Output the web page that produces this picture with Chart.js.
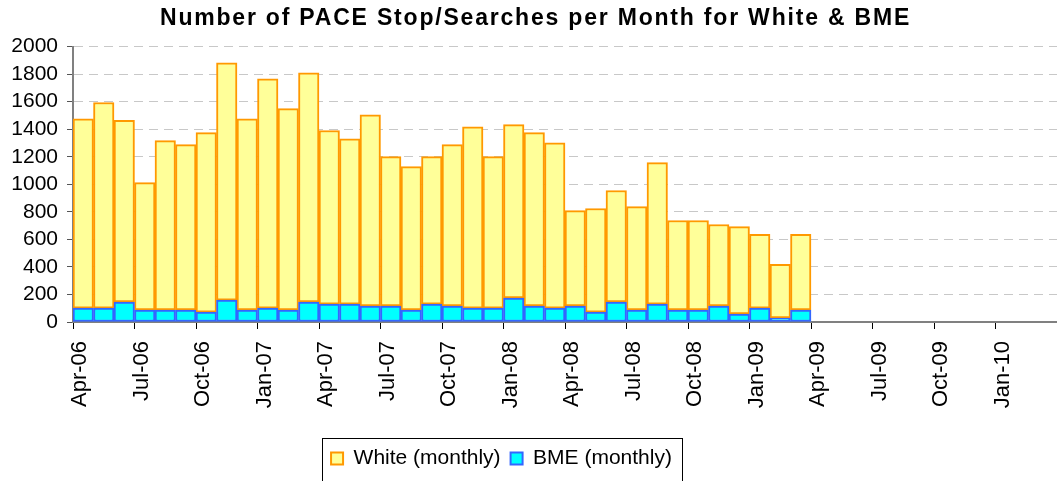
<!DOCTYPE html>
<html>
<head>
<meta charset="utf-8">
<script src="https://cdn.jsdelivr.net/npm/chart.js@4.4.1/dist/chart.umd.min.js"></script>
<style>
  html, body { margin: 0; padding: 0; background: #fff; }
  #wrap { width: 1057px; height: 481px; }
</style>
</head>
<body>
<div id="wrap"><canvas id="pace-chart"></canvas></div>
<script>
// months on the axis (Apr-06 .. Mar-10), one bar slot each
var months = [
  "Apr-06", "May-06", "Jun-06", "Jul-06", "Aug-06", "Sep-06", "Oct-06", "Nov-06", "Dec-06", "Jan-07", "Feb-07", "Mar-07",
  "Apr-07", "May-07", "Jun-07", "Jul-07", "Aug-07", "Sep-07", "Oct-07", "Nov-07", "Dec-07", "Jan-08", "Feb-08", "Mar-08",
  "Apr-08", "May-08", "Jun-08", "Jul-08", "Aug-08", "Sep-08", "Oct-08", "Nov-08", "Dec-08", "Jan-09", "Feb-09", "Mar-09",
  "Apr-09", "May-09", "Jun-09", "Jul-09", "Aug-09", "Sep-09", "Oct-09", "Nov-09", "Dec-09", "Jan-10", "Feb-10", "Mar-10"
];

// White stop/searches per month (stacked on top of BME)
var whiteMonthly = [
  1375, 1493, 1319, 925, 1230, 1201, 1303, 1723, 1389, 1665, 1462, 1665,
  1261, 1201, 1389, 1085, 1041, 1071, 1172, 1317, 1100, 1259, 1259, 1201,
  693, 752, 810, 751, 1027, 650, 650, 592, 635, 535, 389, 549
];

// BME stop/searches per month
var bmeMonthly = [
  101, 101, 145, 87, 87, 87, 72, 159, 87, 101, 87, 145,
  130, 130, 116, 116, 87, 130, 116, 101, 101, 174, 116, 101,
  116, 72, 145, 87, 130, 87, 87, 116, 58, 101, 29, 87
];

var FONT = "'Liberation Sans', Arial, sans-serif";

// title is wider in the original, so space the letters out a little
var titleSpacing = {
  id: 'titleSpacing',
  beforeDraw: function(chart) {
    var tb = chart.titleBlock;
    if (!tb || tb._spaced) return;
    var orig = tb.draw;
    tb.draw = function() {
      var c = this.ctx;
      c.save();
      c.translate(7, 0);
      c.letterSpacing = '1.8px';
      orig.apply(this, arguments);
      c.restore();
    };
    tb._spaced = true;
  }
};

// draws the black frame round the legend
var legendFrame = {
  id: 'legendFrame',
  afterLayout: function(chart) {
    // legend sits a bit left of centre in the original
    chart.legend.left -= 27;
    chart.legend.right -= 27;
  },
  afterDraw: function(chart) {
    var lg = chart.legend;
    var hb = lg.legendHitBoxes;
    if (!hb || !hb.length) return;
    var last = hb[hb.length - 1];
    var x1 = Math.round(hb[0].left - 9) + 0.5;
    var x2 = Math.round(last.left + last.width + 10) + 0.5;
    var y1 = Math.round(lg.top) + 0.5;
    var ctx = chart.ctx;
    ctx.save();
    ctx.strokeStyle = '#000';
    ctx.lineWidth = 1;
    ctx.strokeRect(x1, y1, x2 - x1, 60);
    ctx.restore();
  }
};

function drawChart() {
  var config = {
    type: 'bar',
    data: {
      labels: months,
      datasets: [{
        label: 'BME (monthly)',
        data: bmeMonthly,
        backgroundColor: '#00FFFF',
        borderColor: '#3366FF',
        borderWidth: 2,
        borderSkipped: false
      }, {
        label: 'White (monthly)',
        data: whiteMonthly,
        backgroundColor: '#FFFF99',
        borderColor: '#FF9900',
        borderWidth: 2,
        borderSkipped: false
      }]
    },
    options: {
      responsive: true,
      maintainAspectRatio: false,
      animation: false,
      layout: { padding: { top: 0, right: 0, bottom: 2, left: 0 } },
      datasets: {
        bar: { barPercentage: 1, categoryPercentage: 1 }
      },
      plugins: {
        title: {
          display: true,
          text: 'Number of PACE Stop/Searches per Month for White & BME',
          color: '#000',
          font: { family: FONT, size: 23, weight: 'bold' },
          padding: { top: 5, bottom: 14 }
        },
        legend: {
          position: 'bottom',
          reverse: true,
          labels: {
            color: '#000',
            font: { family: FONT, size: 21 },
            boxWidth: 12,
            boxHeight: 12,
            padding: 10
          }
        },
        tooltip: { enabled: false }
      },
      scales: {
        x: {
          stacked: true,
          offset: true,
          border: { color: '#808080', width: 2 },
          grid: {
            offset: true,
            drawOnChartArea: false,
            tickLength: 7,
            tickColor: function(ctx) {
              return (ctx.index !== undefined && ctx.index % 3 === 0) ? '#000' : 'rgba(0,0,0,0)';
            }
          },
          ticks: {
            autoSkip: false,
            minRotation: 90,
            maxRotation: 90,
            padding: 12,
            labelOffset: -3,
            color: '#000',
            font: { family: FONT, size: 22 },
            callback: function(value, index) {
              return index % 3 === 0 ? months[index] : '';
            }
          },
          afterFit: function(scale) {
            scale.height = 116;
            scale.paddingLeft = 0;
            scale.paddingRight = 0;
          }
        },
        y: {
          stacked: true,
          min: 0,
          max: 2000,
          border: { color: '#808080', width: 2, dash: [9, 6] },
          grid: {
            color: '#C8C8C8',
            tickColor: '#555',
            tickLength: 6
          },
          ticks: {
            stepSize: 200,
            autoSkip: false,
            padding: 9,
            color: '#000',
            font: { family: FONT, size: 21 },
            callback: function(value) { return String(value); }
          },
          afterFit: function(scale) { scale.width = 73; }
        }
      }
    },
    plugins: [titleSpacing, legendFrame]
  };
  var ctx = document.getElementById('pace-chart').getContext('2d');
  window.paceChart = new Chart(ctx, config);
}

drawChart();
</script>
</body>
</html>
